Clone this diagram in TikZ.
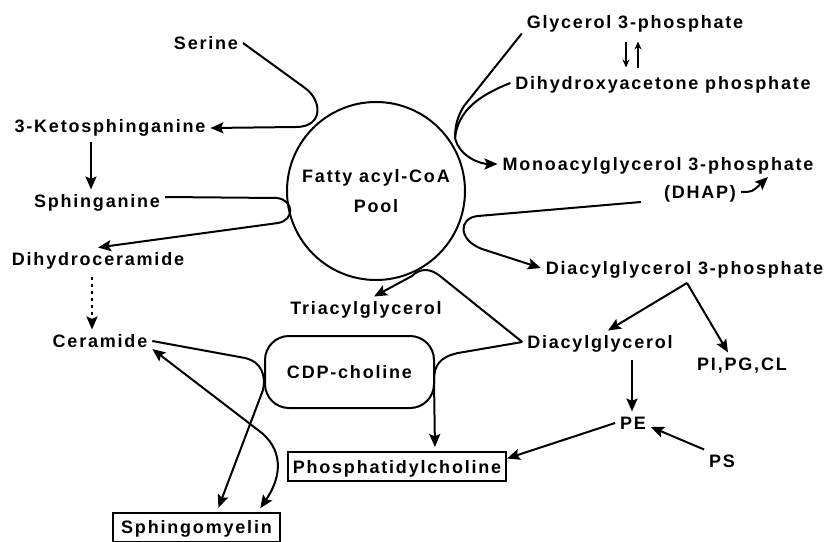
\documentclass[tikz,border=0pt]{standalone}
\usepackage{fontspec}
\setmainfont{Liberation Sans}[LetterSpace=10]
\usetikzlibrary{arrows.meta}

\begin{document}
\begin{tikzpicture}[x=0.5pt,y=-0.5pt,line width=1pt,>={Stealth[length=6.5pt,width=5.5pt,inset=1.2pt]},
  font=\fontsize{9}{11}\selectfont\bfseries,
  lbl/.style={inner sep=2pt,text height=6.5pt,text depth=0pt},
  boxed/.style={lbl,draw,minimum height=14.5pt},
  thin arrow/.style={line width=0.8pt,>={Stealth[length=4pt,width=3.5pt]}}]
  \useasboundingbox (0,0) rectangle (830,541);

  \node[lbl] (serine) at (206,43) {Serine};
  \node[lbl] (keto) at (110,126) {3-Ketosphinganine};
  \node[lbl] (sphinganine) at (97,201) {Sphinganine};
  \node[lbl] (dihydrocer) at (98,259) {Dihydroceramide};
  \node[lbl] (ceramide) at (100,341) {Ceramide};
  \node[boxed,minimum width=83.5pt] (sphingo) at (196.5,527) {Sphingomyelin};
  \node[draw,circle,minimum size=89pt,inner sep=0pt,align=center] (pool) at (376,191) {Fatty acyl-CoA\\[4pt]Pool};
  \node[lbl] (triacyl) at (366,308) {Triacylglycerol};
  \node[lbl,draw,rounded corners=12pt,minimum width=84.5pt,minimum height=36pt] (cdp) at (349.5,372) {CDP-choline};
  \node[boxed,minimum width=109pt] (pc) at (397,466.5) {Phosphatidylcholine};
  \node[lbl] (g3p) at (635,22) {Glycerol 3-phosphate};
  \node[lbl] (dhap) at (663,83) {Dihydroxyacetone phosphate};
  \node[lbl] (mag3p) at (658,164) {Monoacylglycerol 3-phosphate};
  \node[lbl] (dhapnote) at (700,192) {(DHAP)};
  \node[lbl] (dag3p) at (684.5,268) {Diacylglycerol 3-phosphate};
  \node[lbl] (dag) at (600,342) {Diacylglycerol};
  \node[lbl] (pipgcl) at (742,364) {PI,PG,CL};
  \node[lbl] (pe) at (633,423) {PE};
  \node[lbl] (ps) at (722,461) {PS};

  \coordinate (gjoin) at (455,138);
  \coordinate (magout) at (641,202);
  \coordinate (fork) at (687,283);

  \draw[->] (serine.east) -- (305,88) .. controls (322,100) and (324,127) .. (296,127) -- ([yshift=-1pt]keto.east);
  \draw[->,shorten <=2pt] (keto.south -| 91,0) -- (sphinganine.north -| 91,0);
  \draw[->] ([yshift=2pt]sphinganine.east) -- (277,198) .. controls (294,200) and (295,220) .. (278,223) -- (dihydrocer.north);
  \draw[->,dash pattern=on 1.5pt off 2pt,shorten <=3pt] (dihydrocer.south -| 92,0) -- (ceramide.north -| 92,0);
  \draw[->,shorten >=2pt] (ceramide.east) -- (245,358) .. controls (262,362) and (266,376) .. (263,390) -- (sphingo.north -| 217,0);
  \draw[<->,shorten >=2pt] ([yshift=-4pt]ceramide.east) -- (258,430) .. controls (283,448) and (283,475) .. (sphingo.north -| 258,0);

  \draw (g3p.south west) -- (464,106) .. controls (457,117) and (455,127) .. (gjoin);
  \draw (dhap.west) .. controls (480,95) and (458,110) .. (gjoin);
  \draw[->] (gjoin) .. controls (460,158) and (482,164) .. (mag3p.west);
  \draw[->,thin arrow,shorten <=4pt,shorten >=2pt] (g3p.south -| 626,0) -- (dhap.north -| 626,0);
  \draw[->,thin arrow,shorten <=2pt,shorten >=4pt] (dhap.north -| 638,0) -- (g3p.south -| 638,0);
  \draw[->] (dhapnote.east) .. controls (752,192) .. (768,177);
  \draw[->] (magout) -- (478,216) .. controls (458,218) and (458,240) .. (482,249) -- (dag3p.west);

  \draw[->] (dag.west) -- (440,276) .. controls (430,268) and (420,268) .. (412,276) -- (triacyl.north -| 374,0);
  \draw[->,shorten >=2pt] (dag.west) -- (458,353) .. controls (440,357) and (434,365) .. (434,380) -- (pc.north -| 435,0);
  \draw[->] (fork) -- ([xshift=4pt]dag.north);
  \draw[->] (fork) -- ([xshift=-7pt]pipgcl.north);
  \draw[->,shorten <=3pt] (dag.south -| 632,0) -- (pe.north -| 632,0);
  \draw[->] (pe.west) -- ([yshift=4pt]pc.east);
  \draw[->] (ps.north west) -- ([yshift=-2pt]pe.east);
\end{tikzpicture}
\end{document}
